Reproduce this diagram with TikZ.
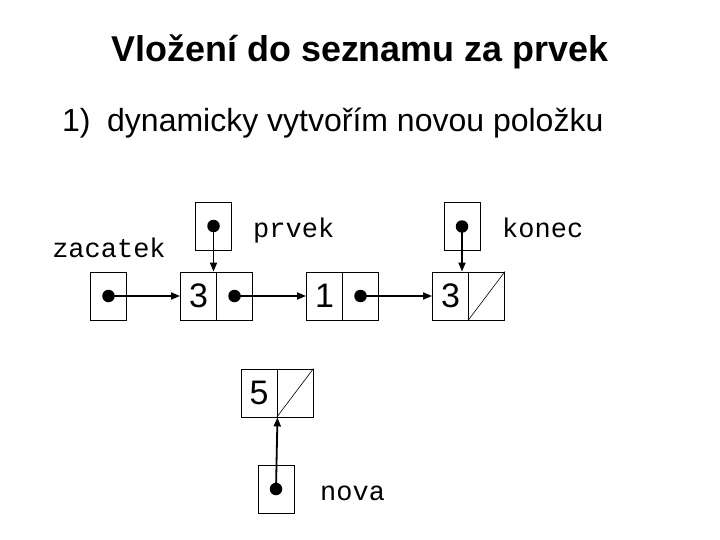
\documentclass[tikz,border=0pt]{standalone}
\usepackage{fontspec}
\setmainfont{Liberation Sans}
\newfontfamily\monof{Liberation Mono}
\usetikzlibrary{arrows.meta}
\begin{document}
\begin{tikzpicture}[x=1pt,y=-1pt,
  cell/.style={draw, line width=0.9pt, minimum width=36pt, minimum height=48pt, inner sep=0pt, font=\fontsize{34}{34}\selectfont},
  ptr/.style={line width=1.8pt, -{Triangle[length=9pt,width=7pt]}},
  dotc/.style={circle, fill=black, minimum size=12.5pt, inner sep=0pt},
  lbl/.style={font=\monof\fontsize{27}{27}\selectfont, inner sep=0pt},
  nil/.style={line width=0.6pt},
]
\fill[white] (0,0) rectangle (720,540);
\useasboundingbox (0,0) rectangle (720,540);

% titles
\node[anchor=base, inner sep=0pt, font=\bfseries\fontsize{35.9}{35.9}\selectfont] (title) at (360,61.5) {Vložení do seznamu za prvek};
\node[anchor=base west, inner sep=0pt, font=\fontsize{32}{32}\selectfont] (num) at (62,132) {1)};
\node[anchor=base west, inner sep=0pt, font=\fontsize{32}{32}\selectfont] (sub) at (107,132) {dynamicky vytvořím novou položku};

% pointer boxes
\node[cell] (zac) at (108.5,296) {};
\node[cell] (prv) at (213.5,226) {};
\node[cell] (kon) at (462,226.5) {};
\node[cell] (nov) at (276,489) {};

% list nodes
\node[cell] (aL) at (198.5,296) {3};
\node[cell] (aR) at (234.5,296) {};
\node[cell] (bL) at (324.5,296) {1};
\node[cell] (bR) at (360.5,296) {};
\node[cell] (cL) at (450.5,296) {3};
\node[cell] (cR) at (486.5,296) {};
\node[cell] (dL) at (259,393) {5};
\node[cell] (dR) at (295,393) {};

% nil diagonals
\draw[nil] (cR.south west) -- (cR.north east);
\draw[nil] (dR.south west) -- (dR.north east);

% dots
\node[dotc] (zacd) at (zac.center) {};
\node[dotc] (prvd) at (prv.center) {};
\node[dotc] (kond) at (kon.center) {};
\node[dotc] (novd) at (nov.center) {};
\node[dotc] (aRd) at (aR.center) {};
\node[dotc] (bRd) at (bR.center) {};

% labels
\node[lbl, anchor=base] (lzac) at (109,258) {zacatek};
\node[lbl, anchor=base west] (lprv) at (253,237) {prvek};
\node[lbl, anchor=base west] (lkon) at (502,237) {konec};
\node[lbl, anchor=base west] (lnov) at (320,500) {nova};

% arrows
\draw[ptr] (zacd.center) -- (aL.west);
\draw[ptr] (aRd.center) -- (bL.west);
\draw[ptr] (bRd.center) -- (cL.west);
\draw[ptr] (prvd.center) -- (prvd.center |- aL.north);
\draw[ptr] (kond.center) -- (kond.center |- cL.north);
\draw[ptr] (novd.center) -- (dL.south east);
\end{tikzpicture}
\end{document}
